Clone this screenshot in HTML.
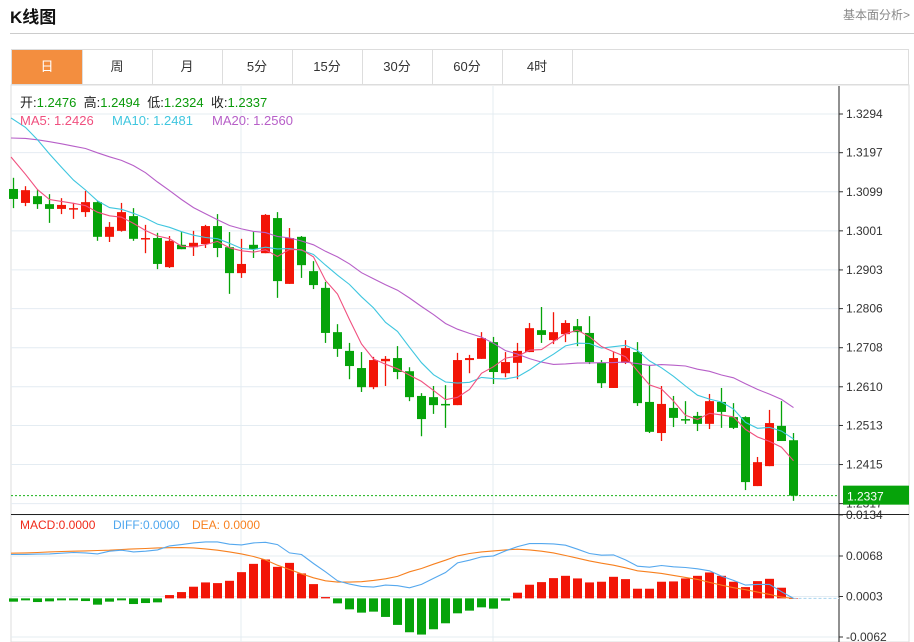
<!DOCTYPE html>
<html><head><meta charset="utf-8">
<style>
body{margin:0;background:#fff;width:914px;height:642px;overflow:hidden;font-family:"Liberation Sans","Noto Sans CJK SC",sans-serif;}
#wrap{position:relative;width:914px;height:642px;}
.title{position:absolute;left:10px;top:3px;font-size:17px;font-weight:bold;color:#111;}
.more{position:absolute;right:4px;top:6px;font-size:12px;color:#888;}
.hr{position:absolute;left:10px;top:33px;width:904px;height:1px;background:#ccc;}
.tabs{position:absolute;left:11px;top:49px;width:898px;height:36px;border:1px solid #ddd;box-sizing:border-box;}
.tab{position:absolute;top:0;height:34px;width:70px;border-right:1px solid #ddd;text-align:center;line-height:34px;font-size:13px;color:#333;}
.tab.on{background:#f38e3f;color:#fff;}
svg{position:absolute;left:0;top:0;}
</style></head><body>
<div id="wrap">
<div class="title">K线图</div>
<div class="more">基本面分析&gt;</div>
<div class="hr"></div>
<div class="tabs">
<div class="tab on" style="left:0">日</div>
<div class="tab" style="left:70px">周</div>
<div class="tab" style="left:140px">月</div>
<div class="tab" style="left:210px">5分</div>
<div class="tab" style="left:280px">15分</div>
<div class="tab" style="left:350px">30分</div>
<div class="tab" style="left:420px">60分</div>
<div class="tab" style="left:490px">4时</div>
</div>
<svg id="chart" width="914" height="642"></svg>
</div>
<script>
const priorCloses=[1.3120,1.3140,1.3150,1.3170,1.3180,1.3190,1.3200,1.3210,1.3230,1.3244,1.3340,1.3380,1.3410,1.3400,1.3380,1.3320,1.3260,1.3180,1.3090];
const opens=[1.3106,1.3071,1.3088,1.3068,1.3056,1.3056,1.3048,1.3073,1.2986,1.3001,1.3038,1.2981,1.2983,1.2910,1.2966,1.2960,1.2968,1.3013,1.2960,1.2895,1.2966,1.2945,1.3033,1.2868,1.2986,1.2900,1.2858,1.2747,1.2700,1.2657,1.2609,1.2674,1.2682,1.2649,1.2587,1.2584,1.2567,1.2564,1.2677,1.2680,1.2722,1.2644,1.2670,1.2697,1.2752,1.2727,1.2742,1.2762,1.2745,1.2670,1.2607,1.2670,1.2697,1.2572,1.2494,1.2557,1.2529,1.2537,1.2517,1.2572,1.2534,1.2534,1.2361,1.2411,1.2512,1.2476];
const closes=[1.3081,1.3103,1.3068,1.3056,1.3066,1.3058,1.3073,1.2986,1.3011,1.3048,1.2981,1.2983,1.2918,1.2976,1.2955,1.2971,1.3013,1.2958,1.2895,1.2918,1.2955,1.3041,1.2875,1.2983,1.2915,1.2865,1.2745,1.2705,1.2662,1.2609,1.2677,1.2680,1.2647,1.2584,1.2529,1.2564,1.2564,1.2677,1.2682,1.2732,1.2647,1.2672,1.2700,1.2757,1.2740,1.2747,1.2770,1.2747,1.2672,1.2619,1.2682,1.2707,1.2569,1.2497,1.2567,1.2532,1.2527,1.2517,1.2574,1.2547,1.2507,1.2371,1.2421,1.2519,1.2474,1.2337];
const highs=[1.3134,1.3113,1.3103,1.3093,1.3083,1.3071,1.3101,1.3075,1.3023,1.3071,1.3058,1.3016,1.2996,1.2988,1.2998,1.3001,1.3016,1.3043,1.2998,1.2981,1.2998,1.3043,1.3048,1.3008,1.2988,1.2925,1.2873,1.2767,1.2720,1.2697,1.2685,1.2687,1.2712,1.2659,1.2594,1.2612,1.2614,1.2695,1.2690,1.2747,1.2735,1.2697,1.2720,1.2770,1.2810,1.2797,1.2777,1.2780,1.2787,1.2677,1.2697,1.2727,1.2722,1.2665,1.2612,1.2587,1.2574,1.2547,1.2592,1.2607,1.2569,1.2536,1.2434,1.2552,1.2574,1.2494];
const lows=[1.3058,1.3063,1.3056,1.3021,1.3043,1.3031,1.3036,1.2976,1.2973,1.2999,1.2976,1.2945,1.2905,1.2908,1.2955,1.2938,1.2958,1.2935,1.2843,1.2883,1.2933,1.2945,1.2833,1.2868,1.2883,1.2855,1.2720,1.2685,1.2629,1.2597,1.2604,1.2612,1.2629,1.2574,1.2486,1.2542,1.2507,1.2564,1.2644,1.2680,1.2617,1.2634,1.2629,1.2697,1.2720,1.2717,1.2722,1.2712,1.2667,1.2607,1.2607,1.2667,1.2562,1.2494,1.2474,1.2509,1.2517,1.2499,1.2504,1.2507,1.2504,1.2351,1.2361,1.2411,1.2474,1.2324];
const macdHist=[-0.00053,-0.00032,-0.00059,-0.00048,-0.00032,-0.00032,-0.00043,-0.00101,-0.00053,-0.00032,-0.00091,-0.00075,-0.00064,0.00053,0.00101,0.00187,0.00256,0.00245,0.00282,0.00421,0.00554,0.00624,0.00506,0.0057,0.004,0.00229,0.00021,-0.0008,-0.00176,-0.00229,-0.00213,-0.00298,-0.00426,-0.00544,-0.00581,-0.00496,-0.004,-0.0024,-0.00197,-0.00144,-0.00165,-0.00037,0.00091,0.00219,0.00261,0.00325,0.00362,0.0032,0.00256,0.00267,0.00346,0.00309,0.00155,0.00155,0.00267,0.00272,0.0032,0.00362,0.00416,0.00362,0.00267,0.00181,0.00277,0.00314,0.00171,0.0];
const diffVals=[0.00704,0.00706,0.0071,0.00714,0.00725,0.00736,0.0073,0.00714,0.00757,0.00773,0.00746,0.00757,0.00778,0.00842,0.00863,0.0089,0.00906,0.00906,0.00869,0.00858,0.0089,0.009,0.00863,0.0073,0.00704,0.0056,0.00426,0.00282,0.00229,0.00192,0.00181,0.00213,0.00203,0.0017,0.00224,0.0032,0.00416,0.0057,0.00613,0.00666,0.00682,0.00762,0.00831,0.00879,0.00879,0.00874,0.00853,0.00789,0.0072,0.00693,0.00698,0.00618,0.00517,0.00501,0.00528,0.00506,0.00496,0.00474,0.00442,0.00357,0.00288,0.00213,0.00224,0.00224,0.00107,0.0];
const deaVals=[0.00725,0.0073,0.00736,0.00746,0.00752,0.00757,0.00762,0.00768,0.00773,0.00784,0.00794,0.008,0.0081,0.00813,0.00815,0.0081,0.00794,0.00773,0.00746,0.00714,0.00672,0.00618,0.00533,0.00464,0.00394,0.0033,0.00282,0.00261,0.00261,0.00267,0.00288,0.00314,0.00352,0.00426,0.0048,0.00549,0.00613,0.00682,0.0072,0.00746,0.00762,0.00778,0.00789,0.00778,0.00757,0.0073,0.00688,0.00645,0.00602,0.00565,0.00533,0.0049,0.00442,0.00421,0.004,0.00368,0.00336,0.00304,0.00256,0.00213,0.00171,0.00139,0.00101,0.00064,0.00021,0.0];
const priceTicks=["1.3294","1.3197","1.3099","1.3001","1.2903","1.2806","1.2708","1.2610","1.2513","1.2415","1.2317"];
const macdTicks=["0.0134","0.0068","0.0003","-0.0062"];
const lastPrice="1.2337";

const NS="http://www.w3.org/2000/svg";
const svg=document.getElementById('chart');
function mk(tag,attrs,parent){const e=document.createElementNS(NS,tag);for(const k in attrs)e.setAttribute(k,attrs[k]);(parent||svg).appendChild(e);return e;}
const X=i=>13.5+12*i;
const PY=v=>114+(1.3294-v)*3988;
const MY=v=>596.5-(v-0.0003)*6230;
const L=11,R=839;
const RED="#f21507",GRN="#06a30a";

// frame
let f=mk('rect',{x:11,y:85,width:898,height:557,fill:'none',stroke:'#ddd'});

// gridlines
priceTicks.forEach(t=>{const y=PY(+t);
 let g=mk('line',{x1:L,x2:R,y1:y,y2:y,stroke:'#e4ecf2'});
 
 let tk=mk('line',{x1:R,x2:R+4,y1:y,y2:y,stroke:'#333'});
 
 let tx=mk('text',{x:846,y:y+4,'font-size':12,fill:'#333'});tx.textContent=t;
 
});
macdTicks.forEach(t=>{const y=MY(+t);
 let g=mk('line',{x1:L,x2:R,y1:y,y2:y,stroke:'#e4ecf2'});
 
 let tk=mk('line',{x1:R,x2:R+4,y1:y,y2:y,stroke:'#333'});
 
 let tx=mk('text',{x:846,y:y+4,'font-size':12,fill:'#333'});tx.textContent=t;
 
});
[241,493].forEach(x=>{let g=mk('line',{x1:x,x2:x,y1:86,y2:642,stroke:'#e4ecf2'});
 });

// candles
for(let i=0;i<closes.length;i++){
 const up=closes[i]>opens[i];const c=up?RED:GRN;
 const grp=mk('g',{});
 
 mk('line',{x1:X(i),x2:X(i),y1:PY(highs[i]),y2:PY(lows[i]),stroke:c,'stroke-width':1.3},grp);
 const t=PY(Math.max(opens[i],closes[i])),b=PY(Math.min(opens[i],closes[i]));
 mk('rect',{x:X(i)-4.5,y:t,width:9,height:Math.max(1.5,b-t),fill:c},grp);
}
// moving averages
const all=priorCloses.concat(closes);const P=priorCloses.length;
function ma(n,color,name){let pts=[];
 for(let i=0;i<closes.length;i++){let s=0;for(let k=0;k<n;k++)s+=all[P+i-k];pts.push((i==0?L:X(i))+','+PY(s/n).toFixed(1));}
 let p=mk('polyline',{points:pts.join(' '),fill:'none',stroke:color,'stroke-width':1.1});
 }
ma(20,'#b75fc8','ma20-line');ma(10,'#3fc6df','ma10-line');ma(5,'#f0507f','ma5-line');

// last price line
const ly=PY(+lastPrice);
let dl=mk('line',{x1:L,x2:R,y1:ly,y2:ly,stroke:'#19b319','stroke-dasharray':'2,2'});


// axes
let ax=mk('line',{x1:R,x2:R,y1:86,y2:642,stroke:'#222'});

let sep=mk('line',{x1:L,x2:909,y1:514.5,y2:514.5,stroke:'#222'});

let lb=mk('rect',{x:843,y:ly-10,width:66,height:19,fill:'#06a30a'});

let lt=mk('text',{x:847,y:ly+5,'font-size':12,fill:'#fff'});lt.textContent=lastPrice;


// MACD
const z=MY(0);
for(let i=0;i<macdHist.length;i++){const v=macdHist[i];const y=MY(v);
 let r=mk('rect',{x:X(i)-4.5,y:Math.min(y,z),width:9,height:Math.max(0.5,Math.abs(y-z)),fill:v>=0?RED:GRN});
 }
let zl=mk('line',{x1:X(macdHist.length-1),x2:R,y1:z,y2:z,stroke:'#a8d4ee','stroke-dasharray':'3,2'});

function ml(arr,color,name){const pts=arr.map((v,i)=>(i==0?L:X(i))+','+MY(v).toFixed(1));
 let p=mk('polyline',{points:pts.join(' '),fill:'none',stroke:color,'stroke-width':1.1});
 }
ml(deaVals,'#f7801f','dea-line');ml(diffVals,'#55a8ee','diff-line');

// legends
function txt(x,y,s,color,name,size){let t=mk('text',{x:x,y:y,'font-size':size||12,fill:color});t.textContent=s;
 return t;}
let info=mk('text',{x:20,y:107,'font-size':13});

[["开:","#222"],["1.2476  ","#0a9a0a"],["高:","#222"],["1.2494  ","#0a9a0a"],["低:","#222"],["1.2324  ","#0a9a0a"],["收:","#222"],["1.2337","#0a9a0a"]].forEach(([s,c])=>{
 const ts=mk('tspan',{fill:c,'xml:space':'preserve'},info);ts.textContent=s;});
info.setAttribute('style','white-space:pre');
txt(20,125,"MA5: 1.2426","#f0507f","ma5-legend",13);
txt(112,125,"MA10: 1.2481","#3fc6df","ma10-legend",13);
txt(212,125,"MA20: 1.2560","#b75fc8","ma20-legend",13);
txt(20,529,"MACD:0.0000","#f02a1a","macd-legend");
txt(113,529,"DIFF:0.0000","#4ea6ee","diff-legend");
txt(192,529,"DEA: 0.0000","#f7801f","dea-legend");
</script>
</body></html>
